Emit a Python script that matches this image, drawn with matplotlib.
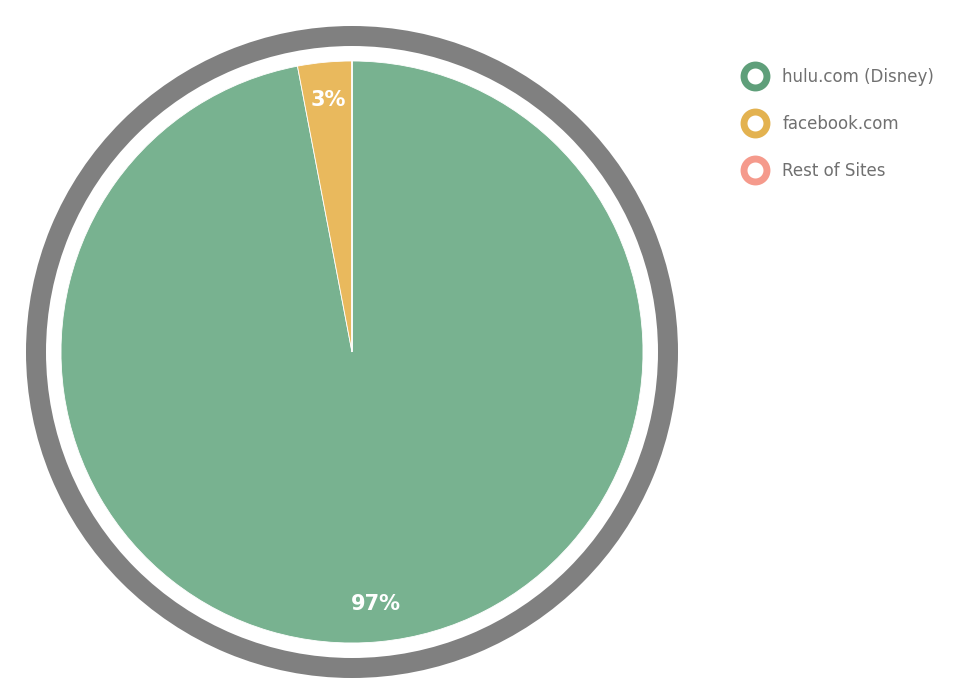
import matplotlib.pyplot as plt
from matplotlib.patches import Wedge
from matplotlib.lines import Line2D

# data
sites = ["hulu.com (Disney)", "facebook.com", "Rest of Sites"]
shares = [97, 3, 0.0001]
pct_labels = ["97%", "3%", ""]
slice_colors = ["#78b290", "#e9b95d", "#f69a8c"]
marker_colors = ["#5f9f7a", "#e3b250", "#f59a8c"]

plt.rcParams['font.family'] = ['DejaVu Sans']

fig = plt.figure(figsize=(9.59, 6.94), dpi=100)
ax = fig.add_axes([0, 0, 1, 1])

cx, cy = 352, 352

# grey outer ring
ax.add_patch(Wedge((cx, cy), 326, 0, 360, width=20, facecolor="#808080", edgecolor="none"))

# y axis is inverted: startangle 270 is the top, counterclock in data is clockwise on screen
wedges, texts = ax.pie(shares, colors=slice_colors, center=(cx, cy), radius=291,
                       startangle=270, counterclock=True, labels=pct_labels,
                       labeldistance=0.87, frame=True,
                       wedgeprops=dict(edgecolor="white", linewidth=0.6))
for t in texts:
    t.set_color("white")
    t.set_fontsize(15)
    t.set_fontweight("bold")
    t.set_ha("center")
    t.set_va("center")

ax.set_xlim(0, 959)
ax.set_ylim(694, 0)
ax.set_aspect('equal')
ax.axis('off')

handles = [Line2D([], [], linestyle="none", marker="o", markersize=16.5,
                  markerfacecolor="white", markeredgecolor=c, markeredgewidth=5)
           for c in marker_colors]
leg = ax.legend(handles, sites, loc="upper left", bbox_to_anchor=(0.754, 0.924),
                frameon=False, labelspacing=1.75, handletextpad=0.65,
                prop=dict(size=12), labelcolor="#707070")

fig.savefig("out.png", dpi=100)
